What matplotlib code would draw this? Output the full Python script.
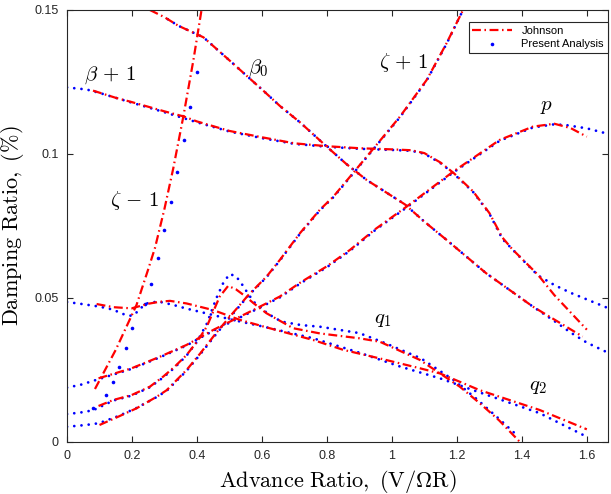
import numpy as np
import matplotlib
matplotlib.use("Agg")
import matplotlib.pyplot as plt
from matplotlib.lines import Line2D
from matplotlib.ticker import FuncFormatter

plt.rcParams['mathtext.fontset'] = 'cm'
plt.rcParams['font.family'] = ['Liberation Sans', 'DejaVu Sans']

# ---- Johnson (red, dash-dot) ----
j_beta1_x = [0.08, 0.15, 0.2, 0.3, 0.36, 0.4, 0.5, 0.6, 0.7, 0.8, 0.9, 1.0, 1.06, 1.1, 1.15, 1.19, 1.25, 1.3, 1.34, 1.37, 1.45, 1.5, 1.6]
j_beta1_y = [0.122, 0.1195, 0.118, 0.1148, 0.113, 0.1113, 0.108, 0.1058, 0.1037, 0.1027, 0.102, 0.1016, 0.1013, 0.1003, 0.097, 0.0934, 0.087, 0.0795, 0.071, 0.067, 0.058, 0.051, 0.039]

j_beta0_x = [0.255, 0.3, 0.343, 0.42, 0.5, 0.604, 0.655, 0.717, 0.8, 0.86, 0.922, 1.04, 1.1, 1.17, 1.29, 1.434, 1.587]
j_beta0_y = [0.150, 0.1475, 0.1445, 0.1405, 0.1325, 0.122, 0.1167, 0.111, 0.1025, 0.0965, 0.091, 0.0825, 0.0765, 0.070, 0.0586, 0.047, 0.0366]

j_zm1_x = [0.086, 0.15, 0.214, 0.25, 0.271, 0.3, 0.327, 0.358, 0.389, 0.414]
j_zm1_y = [0.0184, 0.032, 0.0476, 0.060, 0.0675, 0.081, 0.095, 0.113, 0.1326, 0.150]

j_zp1_x = [0.10, 0.158, 0.214, 0.276, 0.307, 0.368, 0.409, 0.46, 0.51, 0.558, 0.614, 0.655, 0.717, 0.778, 0.82, 0.922, 1.025, 1.107, 1.168, 1.219]
j_zp1_y = [0.0059, 0.0088, 0.0117, 0.0157, 0.018, 0.025, 0.0306, 0.038, 0.0447, 0.051, 0.0574, 0.0632, 0.0725, 0.0806, 0.0852, 0.099, 0.113, 0.1257, 0.1384, 0.150]

j_q1_x = [0.097, 0.143, 0.199, 0.255, 0.296, 0.33, 0.368, 0.40, 0.43, 0.47, 0.496, 0.52, 0.55, 0.574, 0.614, 0.696, 0.778, 0.9, 0.963, 1.086, 1.148, 1.209, 1.27, 1.33, 1.394]
j_q1_y = [0.0125, 0.0146, 0.0163, 0.0192, 0.0227, 0.026, 0.0302, 0.0348, 0.040, 0.0505, 0.0542, 0.053, 0.0505, 0.0482, 0.0447, 0.0395, 0.0377, 0.036, 0.0348, 0.0285, 0.0238, 0.0192, 0.0135, 0.0075, 0.0]

j_p_x = [0.097, 0.199, 0.286, 0.368, 0.409, 0.45, 0.573, 0.655, 0.72, 0.8, 0.871, 0.95, 1.045, 1.189, 1.332, 1.434, 1.5, 1.55, 1.6]
j_p_y = [0.0221, 0.0256, 0.0296, 0.0337, 0.0363, 0.0389, 0.0458, 0.0505, 0.0555, 0.061, 0.0667, 0.074, 0.0817, 0.0939, 0.1049, 0.1095, 0.1105, 0.109, 0.106]

j_q2_x = [0.091, 0.143, 0.199, 0.25, 0.286, 0.317, 0.368, 0.45, 0.532, 0.614, 0.758, 0.85, 0.963, 1.086, 1.148, 1.209, 1.27, 1.455, 1.6]
j_q2_y = [0.0479, 0.0468, 0.0464, 0.048, 0.0487, 0.049, 0.0481, 0.0458, 0.0424, 0.0398, 0.0354, 0.032, 0.029, 0.0256, 0.0238, 0.0209, 0.018, 0.0111, 0.0044]

# ---- Present Analysis (blue dots) ----
p_beta1_x = [0.0, 0.06, 0.1, 0.2, 0.3, 0.4, 0.5, 0.6, 0.7, 0.8, 0.9, 1.0, 1.06, 1.1, 1.15, 1.19, 1.25, 1.3, 1.34, 1.4, 1.45, 1.5, 1.55, 1.6, 1.665]
p_beta1_y = [0.1231, 0.1224, 0.1212, 0.1178, 0.1145, 0.111, 0.1078, 0.1055, 0.1035, 0.1025, 0.1018, 0.1014, 0.1011, 0.1001, 0.0968, 0.0932, 0.0868, 0.0793, 0.0705, 0.0635, 0.0578, 0.0545, 0.0518, 0.0495, 0.0465]

p_beta0_x = [0.31, 0.343, 0.42, 0.5, 0.604, 0.655, 0.717, 0.8, 0.86, 0.922, 1.04, 1.1, 1.17, 1.29, 1.434, 1.5, 1.55, 1.6, 1.665]
p_beta0_y = [0.1468, 0.1445, 0.1405, 0.1325, 0.122, 0.1167, 0.111, 0.1025, 0.0965, 0.091, 0.0825, 0.0765, 0.070, 0.0586, 0.047, 0.042, 0.038, 0.0345, 0.031]

p_zm1_x = [0.08, 0.12, 0.14, 0.16, 0.18, 0.20, 0.24, 0.26, 0.28, 0.30, 0.32, 0.34, 0.36, 0.38, 0.40]
p_zm1_y = [0.0117, 0.0163, 0.021, 0.0262, 0.0325, 0.0395, 0.048, 0.055, 0.0638, 0.0736, 0.0834, 0.0939, 0.105, 0.1164, 0.1286]

p_zp1_x = [0.0, 0.04, 0.08, 0.10, 0.158, 0.214, 0.276, 0.307, 0.368, 0.409, 0.46, 0.51, 0.558, 0.614, 0.655, 0.717, 0.778, 0.82, 0.922, 1.025, 1.107, 1.168, 1.219]
p_zp1_y = [0.0053, 0.0057, 0.0062, 0.0066, 0.009, 0.0118, 0.0156, 0.0178, 0.0247, 0.0303, 0.0376, 0.0444, 0.0508, 0.0572, 0.063, 0.0723, 0.0804, 0.085, 0.0988, 0.1128, 0.1255, 0.1382, 0.150]

p_q1_x = [0.0, 0.04, 0.08, 0.143, 0.199, 0.255, 0.296, 0.33, 0.368, 0.40, 0.43, 0.46, 0.48, 0.50, 0.52, 0.54, 0.56, 0.58, 0.62, 0.66, 0.72, 0.78, 0.9, 0.98, 1.09, 1.19, 1.26, 1.33, 1.39]
p_q1_y = [0.0097, 0.0102, 0.011, 0.0144, 0.0161, 0.019, 0.0224, 0.0257, 0.030, 0.0348, 0.041, 0.050, 0.055, 0.0583, 0.0576, 0.0545, 0.051, 0.048, 0.0444, 0.0418, 0.0406, 0.040, 0.0378, 0.0343, 0.029, 0.0215, 0.015, 0.008, 0.0018]

p_p_x = [0.0, 0.04, 0.08, 0.199, 0.286, 0.368, 0.409, 0.45, 0.573, 0.655, 0.72, 0.8, 0.871, 0.95, 1.045, 1.189, 1.332, 1.434, 1.5, 1.538, 1.6, 1.665]
p_p_y = [0.0189, 0.0198, 0.0212, 0.0254, 0.0294, 0.0335, 0.0361, 0.0386, 0.0455, 0.0502, 0.0552, 0.0607, 0.0664, 0.0737, 0.0814, 0.0936, 0.1046, 0.1092, 0.1103, 0.110, 0.1089, 0.107]

p_q2_x = [0.0, 0.04, 0.1, 0.14, 0.18, 0.2, 0.22, 0.24, 0.28, 0.327, 0.368, 0.409, 0.51, 0.614, 0.758, 0.9, 1.025, 1.148, 1.25, 1.455, 1.6]
p_q2_y = [0.0486, 0.048, 0.047, 0.046, 0.0441, 0.0438, 0.0455, 0.048, 0.0488, 0.0476, 0.0463, 0.0452, 0.0424, 0.0398, 0.036, 0.031, 0.0262, 0.0221, 0.018, 0.010, 0.0018]

johnson = [(j_beta1_x, j_beta1_y), (j_beta0_x, j_beta0_y), (j_zm1_x, j_zm1_y),
           (j_zp1_x, j_zp1_y), (j_q1_x, j_q1_y), (j_p_x, j_p_y), (j_q2_x, j_q2_y)]
present = [(p_beta1_x, p_beta1_y), (p_beta0_x, p_beta0_y), (p_zp1_x, p_zp1_y),
           (p_q1_x, p_q1_y), (p_p_x, p_p_y), (p_q2_x, p_q2_y)]

labels = [r'$\beta\,+\,1$', r'$\beta_0$', r'$\zeta\,+\,1$', r'$\zeta\,-\,1$', r'$p$', r'$q_1$', r'$q_2$']
label_x = [0.132, 0.589, 1.035, 0.209, 1.476, 0.973, 1.45]
label_y = [0.1274, 0.1298, 0.1316, 0.084, 0.1164, 0.0424, 0.0192]

xticks = [0, 0.2, 0.4, 0.6, 0.8, 1.0, 1.2, 1.4, 1.6]
yticks = [0, 0.05, 0.1, 0.15]

fig = plt.figure(figsize=(6.11, 4.94), dpi=100)
ax = fig.add_axes([0.1097, 0.1053, 0.8853, 0.8745])

red = (1, 0, 0)
blue = (0, 0, 1)
dashdot = (0, (4.0, 1.6, 0.7, 1.6))
dotted = (0, (0.01, 2.6))

for xs, ys in present:
    ax.plot(xs, ys, color=blue, lw=2.0, linestyle=dotted, dash_capstyle='round')
ax.plot(p_zm1_x, p_zm1_y, color=blue, linestyle='none', marker='o', ms=2.6, mec='none')

for xs, ys in johnson:
    ax.plot(xs, ys, color=red, lw=1.6, linestyle=dashdot)

for t, x, y in zip(labels, label_x, label_y):
    ax.text(x, y, t, fontsize=15, ha='center', va='center')

ax.set_xlim(0, 1.665)
ax.set_ylim(0, 0.15)
ax.set_xticks(xticks)
ax.set_yticks(yticks)
ax.xaxis.set_major_formatter(FuncFormatter(lambda v, p: ('%g' % v)))
ax.yaxis.set_major_formatter(FuncFormatter(lambda v, p: ('%g' % v)))
ax.tick_params(direction='in', top=True, right=True, length=4, width=0.8,
               labelsize=9, colors='#262626', pad=6)
for s in ax.spines.values():
    s.set_color('#262626')
    s.set_linewidth(0.8)

ax.set_xlabel(r'$\mathrm{Advance\ Ratio,\ (V/\Omega R)}$', fontsize=16, labelpad=4)
ax.set_ylabel(r'$\mathrm{Damping\ Ratio,\ (\%)}$', fontsize=16, labelpad=6)

handles = [Line2D([], [], color=red, lw=1.6, linestyle=dashdot),
           Line2D([], [], color=blue, linestyle='none', marker='o', ms=2.6, mec='none')]
leg = ax.legend(handles, ['Johnson', 'Present Analysis'], loc='upper right',
                fontsize=8, fancybox=False, framealpha=1, edgecolor='#262626',
                bbox_to_anchor=(0.9995, 0.973), borderaxespad=0.0,
                handlelength=3.6, borderpad=0.35, labelspacing=0.35)
leg.get_frame().set_linewidth(0.8)

fig.savefig('out.png', dpi=100)
